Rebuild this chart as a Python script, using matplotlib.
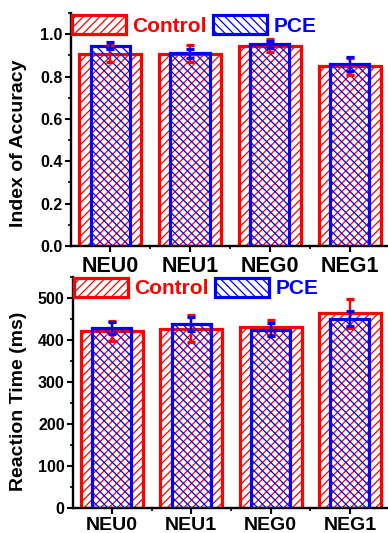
import matplotlib
matplotlib.use("Agg")
import matplotlib.pyplot as plt
import numpy as np
from matplotlib.ticker import MultipleLocator, FixedLocator, FormatStrFormatter

categories = ["NEU0", "NEU1", "NEG0", "NEG1"]
series = ["Control", "PCE"]

acc_control = [0.907, 0.907, 0.945, 0.849]
acc_control_err = [0.040, 0.040, 0.030, 0.040]
acc_pce = [0.946, 0.909, 0.953, 0.861]
acc_pce_err = [0.015, 0.020, 0.016, 0.033]

rt_control = [420, 426, 430, 463]
rt_control_err = [24, 32, 18, 35]
rt_pce = [427, 437, 424, 450]
rt_pce_err = [14, 17, 15, 18]

plt.rcParams['font.family'] = ['Liberation Sans', 'DejaVu Sans']
plt.rcParams['font.weight'] = 'bold'
plt.rcParams['hatch.linewidth'] = 0.9

W, H = 388, 533
fig = plt.figure(figsize=(W / 100, H / 100), dpi=100)

def px_axes(left, top, right, bottom):
    return fig.add_axes([left / W, 1 - bottom / H, (right - left) / W, (bottom - top) / H])

ax1 = px_axes(71, 13, 388, 246)
ax2 = px_axes(73, 276.7, 388, 507.7)

x = np.arange(len(categories))
RED = '#ff0000'
BLUE = '#0000ff'

def draw(ax, c, ce, p, pe, ylim, major, minor, ylabel, xfs, yfs, legend_anchor, ylab_xy):
    ax.bar(x, c, width=0.78, facecolor='white', edgecolor=RED, hatch='////',
           linewidth=2.3, label=series[0], zorder=2)
    ax.bar(x, p, width=0.49, facecolor='none', edgecolor=BLUE, hatch='\\\\\\\\',
           linewidth=2.3, label=series[1], zorder=3)
    ax.errorbar(x, c, yerr=ce, fmt='none', ecolor=RED, elinewidth=1.7, capsize=3.2,
                capthick=2.3, zorder=4)
    ax.errorbar(x, p, yerr=pe, fmt='none', ecolor=BLUE, elinewidth=1.7, capsize=3.2,
                capthick=2.3, zorder=5)
    ax.set_xlim(-0.49, 3.48)
    ax.set_ylim(*ylim)
    ax.yaxis.set_major_locator(MultipleLocator(major))
    ax.yaxis.set_minor_locator(MultipleLocator(minor))
    ax.set_xticks(x)
    ax.set_xticklabels(categories, fontsize=xfs, fontweight='bold')
    ax.xaxis.set_minor_locator(FixedLocator([0.5, 1.5, 2.5]))
    for s in ['top', 'right']:
        ax.spines[s].set_visible(False)
    for s in ['left', 'bottom']:
        ax.spines[s].set_linewidth(1.7)
    ax.tick_params(which='major', direction='out', length=4, width=1.5, labelsize=yfs, pad=2)
    ax.tick_params(axis='x', which='major', labelsize=xfs, pad=3)
    ax.tick_params(which='minor', direction='out', length=2.5, width=1.2)
    ax.set_ylabel(ylabel, fontsize=14, fontweight='bold')
    ax.yaxis.set_label_coords(*ylab_xy)
    ax.legend(loc='upper left', bbox_to_anchor=legend_anchor, bbox_transform=fig.transFigure,
              ncol=2, frameon=False, handlelength=2.6, handleheight=1.0,
              handletextpad=0.3, columnspacing=0.3, borderpad=0, borderaxespad=0,
              labelcolor=[RED, BLUE], prop={'weight': 'bold', 'size': 15})

draw(ax1, acc_control, acc_control_err, acc_pce, acc_pce_err, (0, 1.1), 0.2, 0.1,
     "Index of Accuracy", 15.5, 11.5, (72 / W, 1 - 15.5 / H), (-0.139, 0.44))
ax1.yaxis.set_major_formatter(FormatStrFormatter('%.1f'))
draw(ax2, rt_control, rt_control_err, rt_pce, rt_pce_err, (0, 550), 100, 50,
     "Reaction Time (ms)", 14, 11.5, (74 / W, 1 - 278 / H), (-0.146, 0.46))

fig.savefig("out.png", dpi=100)
